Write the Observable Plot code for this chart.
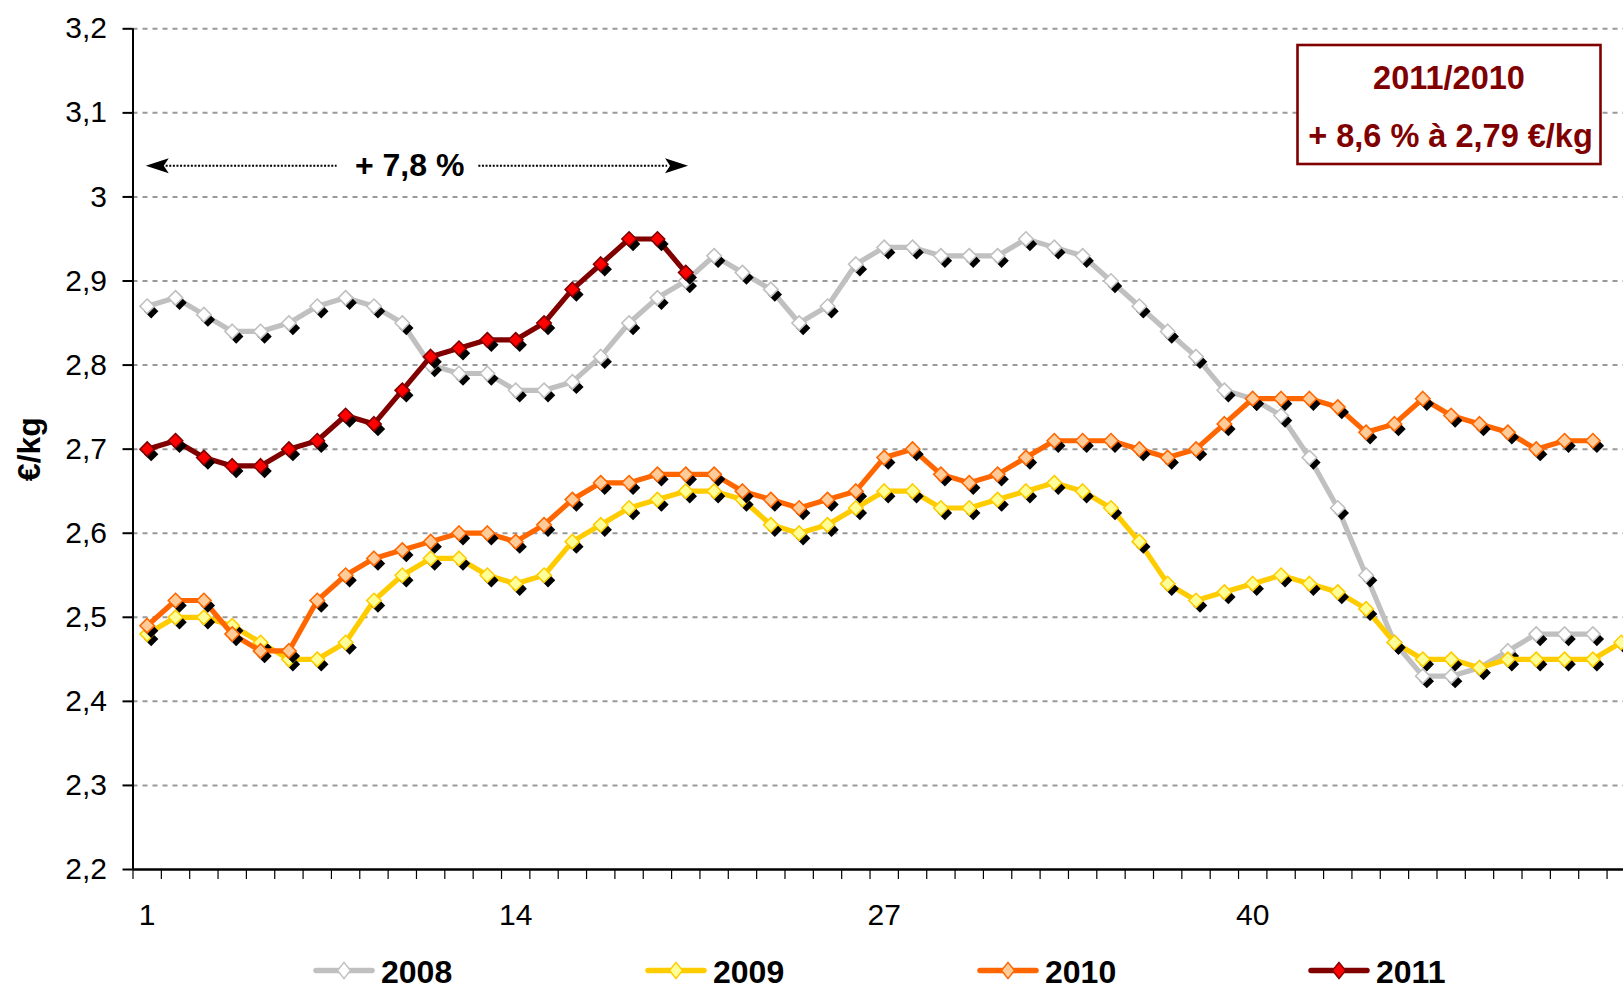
<!DOCTYPE html>
<html>
<head>
<meta charset="utf-8">
<script src="https://cdn.jsdelivr.net/npm/d3@7"></script>
<script src="https://cdn.jsdelivr.net/npm/@observablehq/plot@0.6"></script>
<style>
  body { margin: 0; background: #fff; }
  #wrap { position: relative; width: 1623px; height: 985px; overflow: hidden; font-family: "Liberation Sans", Arial, sans-serif; }
  #overlay { position: absolute; left: 0; top: 0; pointer-events: none; }
</style>
</head>
<body>
<div id="wrap"><div id="chart"></div></div>
<script>
// ---------- data ----------
const years = ["2008", "2009", "2010", "2011"];
const lineColors = ["#c0c0c0", "#ffcc00", "#ff6600", "#800000"];
const markerFills = ["#ffffff", "#ffff99", "#ffcc99", "#ff0000"];
const markerStrokes = ["#c0c0c0", "#ffcc00", "#ff6600", "#800000"];

const prices2008 = [2.87, 2.88, 2.86, 2.84, 2.84, 2.85, 2.87, 2.88, 2.87, 2.85,
  2.80, 2.79, 2.79, 2.77, 2.77, 2.78, 2.81, 2.85, 2.88, 2.90,
  2.93, 2.91, 2.89, 2.85, 2.87, 2.92, 2.94, 2.94, 2.93, 2.93,
  2.93, 2.95, 2.94, 2.93, 2.90, 2.87, 2.84, 2.81, 2.77, 2.76,
  2.74, 2.69, 2.63, 2.55, 2.47, 2.43, 2.43, 2.44, 2.46, 2.48,
  2.48, 2.48];
const prices2009 = [2.48, 2.50, 2.50, 2.49, 2.47, 2.45, 2.45, 2.47, 2.52, 2.55,
  2.57, 2.57, 2.55, 2.54, 2.55, 2.59, 2.61, 2.63, 2.64, 2.65,
  2.65, 2.64, 2.61, 2.60, 2.61, 2.63, 2.65, 2.65, 2.63, 2.63,
  2.64, 2.65, 2.66, 2.65, 2.63, 2.59, 2.54, 2.52, 2.53, 2.54,
  2.55, 2.54, 2.53, 2.51, 2.47, 2.45, 2.45, 2.44, 2.45, 2.45,
  2.45, 2.45, 2.47];
const prices2010 = [2.49, 2.52, 2.52, 2.48, 2.46, 2.46, 2.52, 2.55, 2.57, 2.58,
  2.59, 2.60, 2.60, 2.59, 2.61, 2.64, 2.66, 2.66, 2.67, 2.67,
  2.67, 2.65, 2.64, 2.63, 2.64, 2.65, 2.69, 2.70, 2.67, 2.66,
  2.67, 2.69, 2.71, 2.71, 2.71, 2.70, 2.69, 2.70, 2.73, 2.76,
  2.76, 2.76, 2.75, 2.72, 2.73, 2.76, 2.74, 2.73, 2.72, 2.70,
  2.71, 2.71];
const prices2011 = [2.70, 2.71, 2.69, 2.68, 2.68, 2.70, 2.71, 2.74, 2.73, 2.77,
  2.81, 2.82, 2.83, 2.83, 2.85, 2.89, 2.92, 2.95, 2.95, 2.91];

const yTicks = [2.2, 2.3, 2.4, 2.5, 2.6, 2.7, 2.8, 2.9, 3.0, 3.1, 3.2];
const yTickLabels = ["2,2", "2,3", "2,4", "2,5", "2,6", "2,7", "2,8", "2,9", "3", "3,1", "3,2"];
const xTickWeeks = [1, 14, 27, 40];
const xTickLabels = ["1", "14", "27", "40"];
const yLabel = "€/kg";

const boxLines = ["2011/2010", "+ 8,6 % à 2,79 €/kg"];
const arrowLabel = "+ 7,8 %";
const arrowY = 3.037;           // annotation level
const arrowTips = [0.95, 20.08]; // week span covered by the arrow
const arrowGaps = [7.7, 12.7];   // gap left for the label
const arrowLabelWeek = 10.26;

// ---------- build rows ----------
const priceSeries = [prices2008, prices2009, prices2010, prices2011];
const seriesRows = priceSeries.map((vals, k) =>
  vals.map((v, i) => ({ year: years[k], week: i + 1, price: v })));

const labelByTenth = new Map(yTicks.map((t, i) => [Math.round(t * 10), yTickLabels[i]]));
const weekBounds = d3.range(0.5, 54, 1);

const leftHead = { draw(ctx) { ctx.moveTo(0, 0); ctx.lineTo(23, -7.5); ctx.lineTo(18, 0); ctx.lineTo(23, 7.5); ctx.closePath(); } };
const rightHead = { draw(ctx) { ctx.moveTo(0, 0); ctx.lineTo(-23, -7.5); ctx.lineTo(-18, 0); ctx.lineTo(-23, 7.5); ctx.closePath(); } };

const W = 1623, H = 940;
const marks = [
  Plot.ruleY(yTicks.slice(1), { stroke: "#999", strokeWidth: 2, strokeDasharray: "5,5" }),
  Plot.axisY({ ticks: yTicks, tickFormat: d => labelByTenth.get(Math.round(d * 10)), tickSize: 10, tickPadding: 16, label: null, strokeWidth: 2, fontSize: 30 }),
  Plot.axisX({ ticks: weekBounds, tickSize: 10, tickFormat: () => "", label: null, strokeWidth: 1.2 }),
  Plot.text(xTickWeeks, { x: d => d, frameAnchor: "bottom", dy: 46, text: (d, i) => xTickLabels[i], fontSize: 30, lineAnchor: "middle" }),
  Plot.ruleY([2.2], { stroke: "black", strokeWidth: 2.5 }),
  Plot.ruleX([0.5], { stroke: "black", strokeWidth: 2 }),
  Plot.text([yLabel], { frameAnchor: "left", dx: -103, rotate: -90, textAnchor: "middle", fontWeight: "bold", fontSize: 32, lineAnchor: "middle" }),
  // arrow annotation
  Plot.ruleY([arrowY], { x1: arrowTips[0] + 0.72, x2: arrowGaps[0], stroke: "black", strokeWidth: 2, strokeDasharray: "2,1.6" }),
  Plot.ruleY([arrowY], { x1: arrowGaps[1], x2: arrowTips[1] - 0.72, stroke: "black", strokeWidth: 2, strokeDasharray: "2,1.6" }),
  Plot.dot([arrowTips[0]], { x: d => d, y: () => arrowY, symbol: leftHead, fill: "black" }),
  Plot.dot([arrowTips[1]], { x: d => d, y: () => arrowY, symbol: rightHead, fill: "black" }),
  Plot.text([arrowLabel], { x: () => arrowLabelWeek, y: () => arrowY, fontWeight: "bold", fontSize: 32, lineAnchor: "middle" })
];
seriesRows.forEach((rows, k) => {
  marks.push(
    Plot.line(rows, { x: "week", y: "price", stroke: lineColors[k], strokeWidth: 5.2, strokeLinejoin: "round" }),
    Plot.dot(rows, { x: "week", y: "price", symbol: "diamond2", r: 6.5, fill: "black", dx: 4, dy: 5 }),
    Plot.dot(rows, { x: "week", y: "price", symbol: "diamond2", r: 6.5, fill: markerFills[k], stroke: markerStrokes[k], strokeWidth: 1.6 })
  );
});

const chart = Plot.plot({
  width: W, height: H,
  marginTop: 28.3, marginBottom: H - 869, marginLeft: 132.5, marginRight: 0,
  x: { domain: [0.5, 53.08], axis: null },
  y: { domain: [2.2, 3.2], axis: null },
  style: { fontFamily: "'Liberation Sans', Arial, sans-serif", fontSize: "30px", color: "black", background: "white", overflow: "visible" },
  marks
});
document.getElementById("chart").appendChild(chart);

// ---------- overlay: ratio box + legend ----------
const ov = d3.select("#wrap").append("svg").attr("id", "overlay")
  .attr("width", W).attr("height", 985)
  .style("font-family", "'Liberation Sans', Arial, sans-serif");

const box = ov.append("g");
box.append("rect").attr("x", 1297.5).attr("y", 45).attr("width", 303).attr("height", 119)
  .attr("fill", "white").attr("stroke", "#800000").attr("stroke-width", 2.6);
box.append("text").attr("x", 1449).attr("y", 88.5).attr("text-anchor", "middle")
  .attr("font-weight", "bold").attr("font-size", 32.5).attr("fill", "#800000").text(boxLines[0]);
box.append("text").attr("x", 1450.5).attr("y", 146.5).attr("text-anchor", "middle")
  .attr("font-weight", "bold").attr("font-size", 32.5).attr("fill", "#800000").text(boxLines[1]);

const legendX = [314, 646, 978, 1309];
const lg = ov.append("g");
years.forEach((yr, k) => {
  const x0 = legendX[k], cy = 970.5;
  lg.append("line").attr("x1", x0 + 2).attr("x2", x0 + 58).attr("y1", cy).attr("y2", cy)
    .attr("stroke", lineColors[k]).attr("stroke-width", 5.5).attr("stroke-linecap", "round");
  const c = x0 + 30, r = 6.5;
  lg.append("path").attr("d", `M${c},${cy - r * 1.25}L${c + r},${cy}L${c},${cy + r * 1.25}L${c - r},${cy}Z`)
    .attr("fill", markerFills[k]).attr("stroke", markerStrokes[k]).attr("stroke-width", 1.5);
  lg.append("text").attr("x", x0 + 67).attr("y", 983).attr("font-weight", "bold")
    .attr("font-size", 32).attr("fill", "black").text(yr);
});
</script>
</body>
</html>
